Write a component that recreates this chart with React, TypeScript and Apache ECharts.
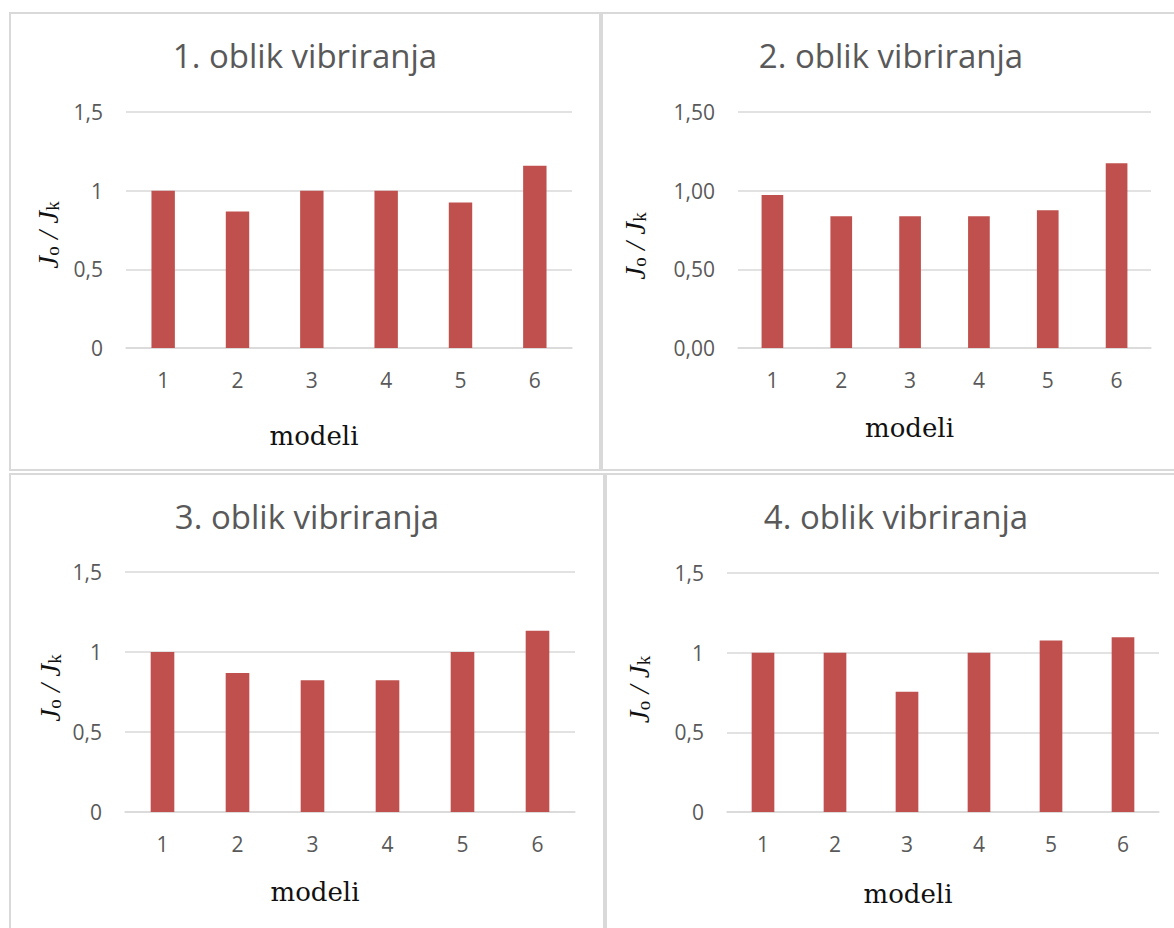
import React, { useEffect, useRef } from "react";
import * as echarts from "echarts";

const categories = ["1", "2", "3", "4", "5", "6"];
const mode1 = [1.0, 0.867, 1.0, 1.0, 0.924, 1.159];
const mode2 = [0.972, 0.837, 0.837, 0.837, 0.875, 1.174];
const mode3 = [1.0, 0.869, 0.823, 0.823, 1.0, 1.133];
const mode4 = [1.0, 1.0, 0.754, 1.0, 1.077, 1.096];
const titles = ["1. oblik vibriranja", "2. oblik vibriranja", "3. oblik vibriranja", "4. oblik vibriranja"];
const yMin = 0;
const yMax = 1.5;
const yStep = 0.5;
const yDecimals = [0, 2, 0, 0];
const xName = "modeli";

const BAR = "#C0504D";
const GRID = "#d9d9d9";
const TXT = "#595959";

export default function App() {
  const ref = useRef<HTMLDivElement>(null);
  useEffect(() => {
    if (!ref.current) return;
    const chart = echarts.init(ref.current, null, { renderer: "svg" });
    const series = [mode1, mode2, mode3, mode4];
    const grids = [
      { left: 126, top: 112, width: 446, height: 236 },
      { left: 738, top: 112, width: 413, height: 236 },
      { left: 125, top: 572, width: 450, height: 240 },
      { left: 727, top: 573, width: 432, height: 239 },
    ];
    const titlePos = [
      { x: 305, y: 39 },
      { x: 891, y: 39 },
      { x: 307, y: 500 },
      { x: 896, y: 500 },
    ];
    const yNameGap = [64, 89, 61, 74];
    const yNamePad = [[0, 10, 0, 0], [0, 32, 0, 0], [0, 0, 0, 8], [0, 0, 0, 6]];
    const xNameGap = [75, 67, 67, 69];
    const fmt = (d: number) => (v: number) =>
      d > 0 ? v.toFixed(d).replace(".", ",") : String(v).replace(".", ",");

    const option: any = {
      animation: false,
      backgroundColor: "#ffffff",
      title: titles.map((t, i) => ({
        text: t,
        left: titlePos[i].x,
        top: titlePos[i].y,
        textAlign: "center",
        padding: 0,
        textStyle: {
          fontFamily: "Open Sans",
          fontSize: 33,
          fontWeight: "normal",
          color: TXT,
        },
      })),
      grid: grids.map((g) => ({ ...g, containLabel: false })),
      xAxis: grids.map((_, i) => ({
        type: "category",
        gridIndex: i,
        data: categories,
        name: xName,
        nameLocation: "middle",
        nameGap: xNameGap[i],
        nameTextStyle: {
          fontFamily: "DejaVu Serif",
          fontSize: 26,
          color: "#111",
          padding: [0, 70, 0, 0],
        },
        axisLine: { show: true, lineStyle: { color: GRID, width: 1.5 } },
        axisTick: { show: false },
        axisLabel: {
          margin: 21,
          fontFamily: "Open Sans",
          fontSize: 21,
          color: TXT,
        },
        splitLine: { show: false },
      })),
      yAxis: grids.map((_, i) => ({
        type: "value",
        gridIndex: i,
        min: yMin,
        max: yMax,
        interval: yStep,
        name: "{j|J}{s|o}{j| / J}{s|k}",
        nameLocation: "middle",
        nameGap: yNameGap[i],
        nameTextStyle: {
          padding: yNamePad[i],
          rich: {
            j: {
              fontFamily: "Liberation Serif",
              fontStyle: "italic",
              fontSize: 29,
              color: "#111",
            },
            s: {
              fontFamily: "Liberation Serif",
              fontSize: 19,
              color: "#111",
              verticalAlign: "bottom",
            },
          },
        },
        axisLine: { show: false },
        axisTick: { show: false },
        axisLabel: {
          margin: 23,
          fontFamily: "Open Sans",
          fontSize: 21,
          color: TXT,
          formatter: fmt(yDecimals[i]),
        },
        splitLine: { show: true, lineStyle: { color: GRID, width: 1.5 } },
      })),
      series: series.map((d, i) => ({
        type: "bar",
        xAxisIndex: i,
        yAxisIndex: i,
        data: d,
        barWidth: "31.5%",
        itemStyle: { color: BAR },
      })),
      graphic: [
        { type: "rect", shape: { x: 10, y: 13, width: 590, height: 457 }, style: { fill: "none", stroke: GRID, lineWidth: 2 }, z: -1 },
        { type: "rect", shape: { x: 602, y: 13, width: 580, height: 457 }, style: { fill: "none", stroke: GRID, lineWidth: 2 }, z: -1 },
        { type: "rect", shape: { x: 10, y: 474, width: 594, height: 470 }, style: { fill: "none", stroke: GRID, lineWidth: 2 }, z: -1 },
        { type: "rect", shape: { x: 606, y: 474, width: 576, height: 470 }, style: { fill: "none", stroke: GRID, lineWidth: 2 }, z: -1 },
      ],
    };
    chart.setOption(option);
    return () => chart.dispose();
  }, []);
  return (
    <div
      ref={ref}
      style={{ position: "absolute", left: 0, top: 0, width: 1174, height: 928 }}
    />
  );
}
